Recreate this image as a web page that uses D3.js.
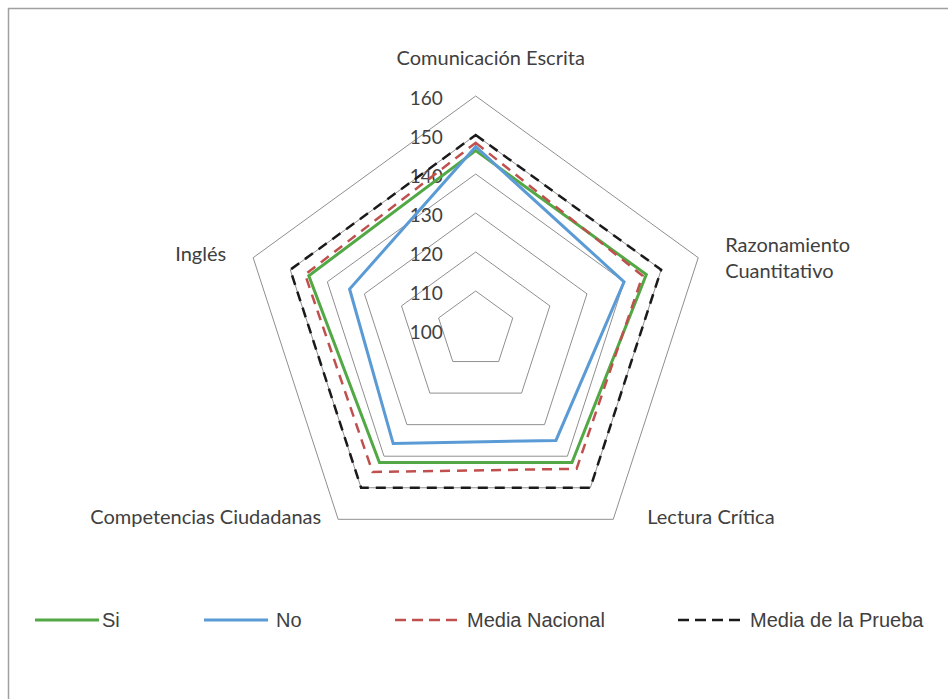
<!DOCTYPE html>
<html>
<head>
<meta charset="utf-8">
<script src="https://cdn.jsdelivr.net/npm/d3@7"></script>
<style>
	body { margin: 0; background: #fff; }
	svg { display: block; }
	.axisLabel { font-family: Lato, 'Open Sans', sans-serif; font-size: 20px; fill: #404040; }
	.tickLabel { font-family: Lato, 'Open Sans', sans-serif; font-size: 19px; fill: #404040; }
	.legendLabel { font-family: 'Liberation Sans', Arial, sans-serif; font-size: 20px; fill: #404040; }
</style>
</head>
<body>
<svg id="chart" width="948" height="699"></svg>
<script>
'use strict';

// Chart data
var categories = ['Comunicación Escrita', 'Razonamiento Cuantitativo', 'Lectura Crítica', 'Competencias Ciudadanas', 'Inglés'];
var ticks = [100, 110, 120, 130, 140, 150, 160];
var seriesNames = ['Si', 'No', 'Media Nacional', 'Media de la Prueba'];
var siValues = [146, 146, 142, 142, 145];
var noValues = [147, 140, 135, 136, 134];
var nacionalValues = [148, 145, 144, 145, 146];
var pruebaValues = [150, 150, 150, 150, 150];

var seriesValues = [siValues, noValues, nacionalValues, pruebaValues];
var seriesColors = ['#52a844', '#5b9bd5', '#c0504d', '#1a1a1a'];
var seriesDash = [null, null, '10,7', '10,7'];
var seriesWidth = [3, 3, 2.5, 2.5];

var svg = d3.select('#chart');
var cx = 475.7, cy = 330;

var r = d3.scaleLinear().domain([100, 160]).range([0, 234]);
var angle = d3.scalePoint().domain(d3.range(categories.length))
	.range([0, 2 * Math.PI * (categories.length - 1) / categories.length]);

function pt(i, v) {
	var a = angle(i);
	return [cx + r(v) * Math.sin(a), cy - r(v) * Math.cos(a)];
}

// Chart border
svg.append('rect')
	.attr('x', 8.5).attr('y', 8.5)
	.attr('width', 960).attr('height', 720)
	.attr('fill', 'none')
	.attr('stroke', '#a0a0a0')
	.attr('stroke-width', 1.5);

// Grid pentagons
var line = d3.line().curve(d3.curveLinearClosed);
svg.selectAll('path.grid')
	.data(ticks.slice(1))
	.enter().append('path')
	.attr('class', 'grid')
	.attr('d', function(t) { return line(categories.map(function(c, i) { return pt(i, t); })); })
	.attr('fill', 'none')
	.attr('stroke', '#8f8f8f')
	.attr('stroke-width', 1);

// Tick labels along the top axis
svg.selectAll('text.tickLabel')
	.data(ticks)
	.enter().append('text')
	.attr('class', 'tickLabel')
	.attr('x', cx - 33)
	.attr('y', function(t) { return cy - r(t) + 9; })
	.attr('text-anchor', 'end')
	.text(function(t) { return t; });

// Series
svg.selectAll('path.series')
	.data(seriesValues)
	.enter().append('path')
	.attr('class', 'series')
	.attr('d', function(vals) { return line(vals.map(function(v, i) { return pt(i, v); })); })
	.attr('fill', 'none')
	.attr('stroke', function(d, i) { return seriesColors[i]; })
	.attr('stroke-width', function(d, i) { return seriesWidth[i]; })
	.attr('stroke-dasharray', function(d, i) { return seriesDash[i]; })
	.attr('stroke-linejoin', 'miter');

// Category labels, offset from the outer ring vertex
var labelLayout = [
	{ dx: 15, dy: -31, anchor: 'middle' },
	{ dx: 27, dy: -6, anchor: 'start' },
	{ dx: 34, dy: 5, anchor: 'start' },
	{ dx: -17, dy: 5, anchor: 'end' },
	{ dx: -27, dy: 3, anchor: 'end' }
];
categories.forEach(function(c, i) {
	var p = pt(i, 160);
	var lay = labelLayout[i];
	var words = i === 1 ? ['Razonamiento', 'Cuantitativo'] : [c];
	var t = svg.append('text')
		.attr('class', 'axisLabel')
		.attr('text-anchor', lay.anchor)
		.attr('x', p[0] + lay.dx)
		.attr('y', p[1] + lay.dy);
	words.forEach(function(w, k) {
		t.append('tspan')
			.attr('x', p[0] + lay.dx)
			.attr('dy', k === 0 ? 0 : 26)
			.text(w);
	});
});

// Legend
var legendLeft = [35, 204, 395, 678];
var legend = svg.selectAll('g.legend')
	.data(seriesNames)
	.enter().append('g')
	.attr('class', 'legend')
	.attr('transform', function(d, i) { return 'translate(' + legendLeft[i] + ',620)'; });

legend.append('line')
	.attr('x1', 0).attr('x2', 64)
	.attr('y1', 0).attr('y2', 0)
	.attr('stroke', function(d, i) { return seriesColors[i]; })
	.attr('stroke-width', function(d, i) { return seriesWidth[i]; })
	.attr('stroke-dasharray', function(d, i) { return seriesDash[i] ? '11,6' : null; });

legend.append('text')
	.attr('class', 'legendLabel')
	.attr('x', function(d, i) { return i === 0 ? 67 : 72; })
	.attr('y', 7)
	.text(function(d) { return d; });
</script>
</body>
</html>
